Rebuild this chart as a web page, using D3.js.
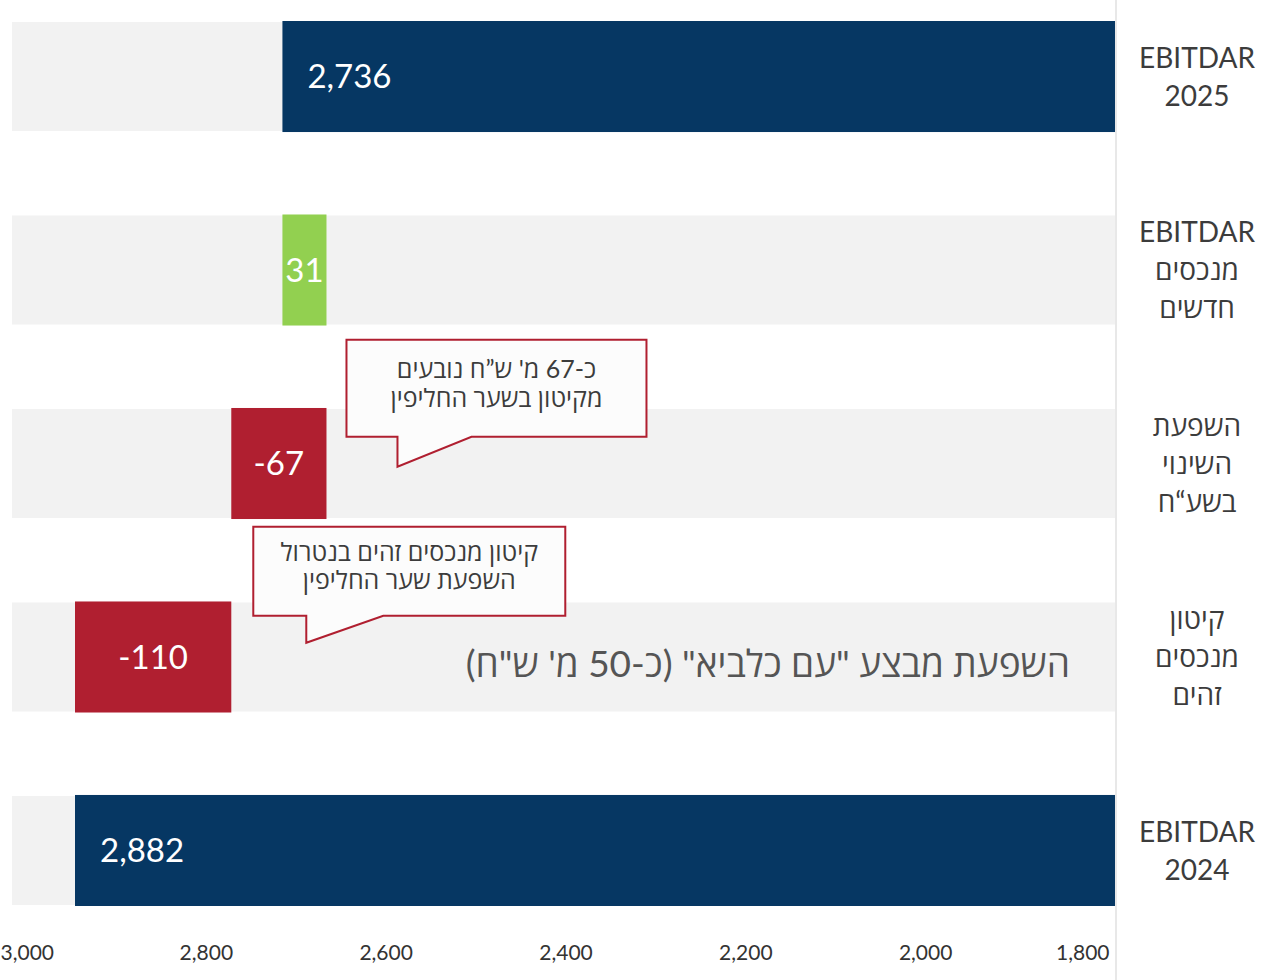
<!DOCTYPE html>
<html lang="he">
<head>
<meta charset="utf-8">
<script src="https://cdn.jsdelivr.net/npm/d3@7"></script>
<style>
  html, body { margin: 0; padding: 0; background: #ffffff; }
  svg { display: block; font-family: Lato, "Open Sans", sans-serif; }
</style>
</head>
<body>
<svg id="chart" width="1268" height="980"></svg>
<script>
// Waterfall rows, top to bottom
const categories = ["EBITDAR 2025", "EBITDAR מנכסים חדשים", "השפעת השינוי בשע“ח", "קיטון מנכסים זהים", "EBITDAR 2024"];
const rowLabelLines = [
  ["EBITDAR", "2025"],
  ["EBITDAR", "מנכסים", "חדשים"],
  ["השפעת", "השינוי", "בשע“ח"],
  ["קיטון", "מנכסים", "זהים"],
  ["EBITDAR", "2024"]
];
const values = [2736, 31, -67, -110, 2882];
const kinds = ["total", "delta", "delta", "delta", "total"];
const axisTicks = [3000, 2800, 2600, 2400, 2200, 2000, 1800];
const calloutRows = [2, 3];
const calloutLines = [
  ["כ-67 מ' ש”ח נובעים", "מקיטון בשער החליפין"],
  ["קיטון מנכסים זהים בנטרול", "השפעת שער החליפין"]
];
const noteText = "השפעת מבצע \"עם כלביא\" (כ-50 מ' ש\"ח)";

const colors = { total: "#063763", up: "#92d050", down: "#b01f30", band: "#f2f2f2", text: "#3c3c3c", rule: "#e8e8e8" };

const svg = d3.select("#chart");
const plotLeft = 12, plotRight = 1115;
const barFloor = 2150;

// Running totals, built from the bottom (opening total) upwards
const n = values.length;
const segs = new Array(n);
let running = values[n - 1];
segs[n - 1] = { from: barFloor, to: running };
for (let i = n - 2; i >= 1; i--) {
  segs[i] = { from: running, to: running + values[i] };
  running += values[i];
}
segs[0] = { from: barFloor, to: values[0] };

const x = d3.scaleLinear().domain([2882, barFloor]).range([75, plotRight]);
const y = d3.scaleBand().domain(categories).range([22, 905]).paddingInner(0.4365).paddingOuter(0);
const bw = y.bandwidth();

// Background bands
svg.append("g").selectAll("rect").data(categories).join("rect")
  .attr("x", plotLeft).attr("width", plotRight - plotLeft)
  .attr("y", d => y(d)).attr("height", bw)
  .attr("fill", colors.band);

// Separator line to the right of the plot
svg.append("line")
  .attr("x1", plotRight + 1).attr("x2", plotRight + 1)
  .attr("y1", 0).attr("y2", 980)
  .attr("stroke", colors.rule).attr("stroke-width", 2);

// Bars
const barColor = i => kinds[i] === "total" ? colors.total : (values[i] >= 0 ? colors.up : colors.down);
svg.append("g").selectAll("rect").data(categories).join("rect")
  .attr("x", (d, i) => Math.min(x(segs[i].from), x(segs[i].to)))
  .attr("width", (d, i) => Math.abs(x(segs[i].from) - x(segs[i].to)))
  .attr("y", d => y(d) - 1).attr("height", bw + 2)
  .attr("fill", (d, i) => barColor(i));

// Bar value labels (plain hyphen for negatives)
const fmt = d3.formatLocale({ decimal: ".", thousands: ",", grouping: [3], currency: ["", ""], minus: "-" }).format(",");
svg.append("g").selectAll("text").data(categories).join("text")
  .attr("x", (d, i) => kinds[i] === "total" ? x(values[i]) + 25 : (x(segs[i].from) + x(segs[i].to)) / 2)
  .attr("y", d => y(d) + bw / 2)
  .attr("dy", "0.36em")
  .attr("text-anchor", (d, i) => kinds[i] === "total" ? "start" : "middle")
  .attr("fill", "#ffffff")
  .attr("font-size", 33)
  .text((d, i) => fmt(values[i]));

// Category labels on the right
const catG = svg.append("g");
categories.forEach((c, i) => {
  const lines = rowLabelLines[i];
  const lh = 38;
  const cy = y(c) + bw / 2;
  const t = catG.append("text")
    .attr("x", 1197).attr("text-anchor", "middle")
    .attr("direction", "rtl")
    .attr("fill", colors.text).attr("font-size", 28);
  lines.forEach((ln, k) => {
    t.append("tspan").attr("x", 1197)
      .attr("y", cy + (k - (lines.length - 1) / 2) * lh)
      .attr("dy", "0.36em")
      .text(ln);
  });
});

// Note inside the identical-assets row
const noteRow = categories[3];
svg.append("text")
  .attr("x", 1070).attr("y", y(noteRow) + bw / 2 + 7)
  .attr("dy", "0.36em")
  .attr("direction", "rtl").attr("text-anchor", "start")
  .attr("fill", "#555555").attr("font-size", 37)
  .text(noteText);

// Callouts pointing at the FX and identical-asset bars
const calloutBoxes = [
  { off: 71, dx: -51, dy: -127, w: 300, h: 97, tail: 74, tipOffY: 0.53, lh: 29 },
  { off: 75, dx: -53, dy: -116, w: 312, h: 89, tail: 77, tipOffY: 0.37, lh: 28 }
];
calloutRows.forEach((r, k) => {
  const c = categories[r];
  const b = calloutBoxes[k];
  const tipX = Math.max(x(segs[r].from), x(segs[r].to)) + b.off;
  const tipY = y(c) + bw * b.tipOffY;
  const L = tipX + b.dx, T = tipY + b.dy, R = L + b.w, B = T + b.h;
  const path = d3.path();
  path.moveTo(L, T); path.lineTo(R, T); path.lineTo(R, B);
  path.lineTo(tipX + b.tail, B); path.lineTo(tipX, tipY); path.lineTo(tipX, B);
  path.lineTo(L, B); path.closePath();
  const g = svg.append("g");
  g.append("path").attr("d", path.toString())
    .attr("fill", "#fcfcfc").attr("stroke", colors.down).attr("stroke-width", 2)
    .attr("stroke-linejoin", "miter");
  const t = g.append("text").attr("text-anchor", "middle").attr("direction", "rtl")
    .attr("fill", colors.text).attr("font-size", 25);
  const lines = calloutLines[k];
  lines.forEach((ln, j) => {
    t.append("tspan").attr("x", (L + R) / 2)
      .attr("y", T + b.h / 2 + (j - (lines.length - 1) / 2) * b.lh - 5)
      .attr("dy", "0.36em").text(ln);
  });
});

// Value axis along the bottom
const axisX = d3.scaleLinear().domain([3000, 1800]).range([26, 1105]);
const axisG = svg.append("g").attr("transform", "translate(0,930)")
  .call(d3.axisBottom(axisX).tickValues(axisTicks).tickFormat(fmt).tickSize(0).tickPadding(15));
axisG.select(".domain").remove();
axisG.selectAll("text").attr("font-size", 21).attr("fill", "#333333")
  .attr("font-family", "Lato, 'Open Sans', sans-serif");
// keep edge labels inside the plot width
axisG.selectAll(".tick").each(function(d) {
  const txt = d3.select(this).select("text");
  const w = txt.node().getComputedTextLength();
  const cx = axisX(d);
  let shift = 0;
  if (cx + w / 2 > plotRight - 6) shift = plotRight - 6 - (cx + w / 2);
  if (cx - w / 2 < 0) shift = -(cx - w / 2);
  txt.attr("x", shift);
});
</script>
</body>
</html>
